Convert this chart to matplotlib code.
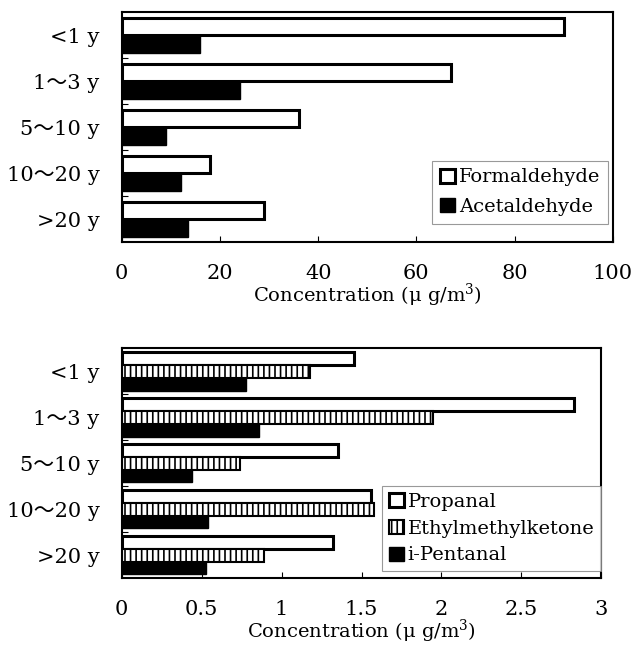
import matplotlib
matplotlib.use("Agg")
import matplotlib.pyplot as plt
import numpy as np

categories = ["<1 y", "1～3 y", "5～10 y", "10～20 y", ">20 y"]

formaldehyde = [90, 67, 36, 18, 29]
acetaldehyde = [16, 24, 9, 12, 13.5]

propanal = [1.45, 2.83, 1.35, 1.56, 1.32]
emk = [1.18, 1.95, 0.74, 1.58, 0.89]
ipentanal = [0.78, 0.86, 0.44, 0.54, 0.53]

top_ticks = [0, 20, 40, 60, 80, 100]
bot_ticks = [0, 0.5, 1, 1.5, 2, 2.5, 3]
bot_ticklabels = ["0", "0.5", "1", "1.5", "2", "2.5", "3"]

FONT = ["DejaVu Serif", "Noto Sans CJK JP", "DejaVu Sans"]
plt.rcParams["font.family"] = FONT
plt.rcParams["mathtext.fontset"] = "dejavuserif"
plt.rcParams["hatch.linewidth"] = 1.2

fig = plt.figure(figsize=(6.41, 6.46), dpi=100)
ax1 = fig.add_axes([0.190, 0.625, 0.766, 0.356])
ax2 = fig.add_axes([0.190, 0.105, 0.748, 0.356])

y = np.arange(len(categories))

# Top panel
h1 = 0.38
ax1.barh(y - h1 / 2, formaldehyde, height=h1, color="white", edgecolor="black",
         linewidth=2.2, label="Formaldehyde")
ax1.barh(y + h1 / 2, acetaldehyde, height=h1, color="black", edgecolor="black",
         linewidth=1, label="Acetaldehyde")
ax1.set_xlim(0, 100)
ax1.set_ylim(len(categories) - 0.5, -0.5)
ax1.set_xticks(top_ticks)
ax1.set_xticklabels([str(t) for t in top_ticks])

# Bottom panel
h2 = 0.28
ax2.barh(y - h2, propanal, height=h2, color="white", edgecolor="black",
         linewidth=2.2, label="Propanal")
ax2.barh(y, emk, height=h2, color="white", edgecolor="black",
         linewidth=1.5, hatch="|||", label="Ethylmethylketone")
ax2.barh(y + h2, ipentanal, height=h2, color="black", edgecolor="black",
         linewidth=1, label="i-Pentanal")
ax2.set_xlim(0, 3)
ax2.set_ylim(len(categories) - 0.5, -0.5)
ax2.set_xticks(bot_ticks)
ax2.set_xticklabels(bot_ticklabels)

for ax in (ax1, ax2):
    ax.set_xlabel("Concentration (μ g/m$^3$)", fontsize=14, labelpad=-1)
    ax.set_yticks(y)
    ax.set_yticklabels(categories, fontsize=15)
    ax.set_yticks(np.arange(len(categories) - 1) + 0.5, minor=True)
    ax.tick_params(axis="y", which="major", length=0, pad=16)
    ax.tick_params(axis="y", which="minor", direction="in", length=4, width=0.8)
    ax.tick_params(axis="x", direction="in", length=4, width=0.8, pad=16, labelsize=15)
    for s in ax.spines.values():
        s.set_linewidth(1.5)

leg1 = ax1.legend(loc="lower right", bbox_to_anchor=(0.99, 0.08), fontsize=14,
                  frameon=True, fancybox=False, edgecolor="gray",
                  handlelength=0.75, handleheight=0.75, handletextpad=0.2,
                  borderpad=0.4, labelspacing=0.6, borderaxespad=0)
leg1.get_frame().set_linewidth(0.8)

leg2 = ax2.legend(loc="lower right", bbox_to_anchor=(1.0, 0.03), fontsize=14,
                  frameon=True, fancybox=False, edgecolor="gray",
                  handlelength=0.75, handleheight=0.75, handletextpad=0.2,
                  borderpad=0.35, labelspacing=0.45, borderaxespad=0)
leg2.get_frame().set_linewidth(0.8)

fig.savefig("out.png", dpi=100)
